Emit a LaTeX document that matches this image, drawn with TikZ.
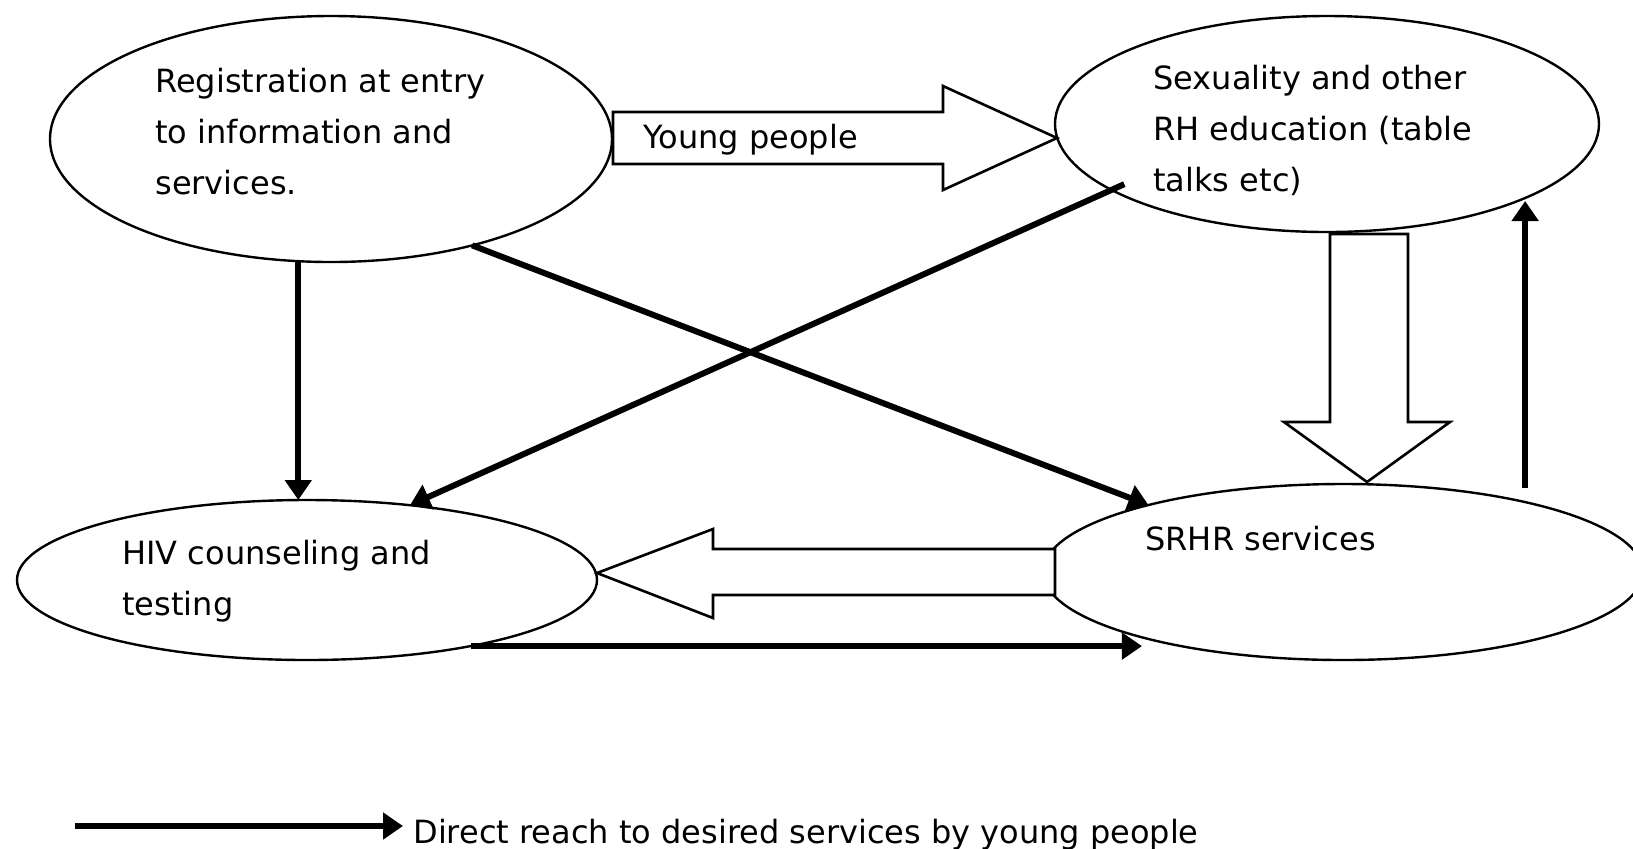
\documentclass[tikz,border=0pt]{standalone}
\usepackage{fontspec}
\setmainfont{DejaVu Sans}
\usetikzlibrary{arrows.meta,positioning,shapes.geometric}
\tikzset{
    bubble/.style={
        ellipse,
        draw=black, line width=1.2pt,
        inner sep=0pt, outer sep=0pt
    },
    bubtext/.style={
        anchor=base west,
        inner sep=0pt,
        align=left,
        font=\fontsize{16}{25.5}\selectfont
    },
    reach/.style={draw, line width=3pt, -{Triangle[length=10pt,width=13pt]}},
    blockarrow/.style={
        draw=black, line width=1.3pt,
        fill=white, line join=miter
    }
}
\begin{document}
\begin{tikzpicture}[x=0.5pt,y=-0.5pt]
\useasboundingbox (0,0) rectangle (1633,848);
% the four stages
\node[bubble, minimum width=281pt, minimum height=123pt] (reg) at (331,139) {};
\node[bubble, minimum width=272pt, minimum height=108pt] (sex) at (1327,124) {};
\node[bubble, minimum width=290pt, minimum height=80pt] (hiv) at (307,580) {};
\node[bubble, minimum width=300pt, minimum height=88pt] (srhr) at (1343,572) {};
% block arrows
\draw[blockarrow] (reg.east) ++(1,-27) -- ++(330,0) -- ++(0,-26) -- ++(114,52)
    -- ++(-114,52) -- ++(0,-26) -- ++(-330,0) -- cycle;
\draw[blockarrow] (hiv.east) ++(0,-7) -- ++(116,-44) -- ++(0,20) -- ++(342,0)
    -- ++(0,46) -- ++(-342,0) -- ++(0,23) -- cycle;
\draw[blockarrow] (sex.south) ++(3,2) -- ++(78,0) -- ++(0,188) -- ++(42,0)
    -- ++(-83,60) -- ++(-83,-60) -- ++(46,0) -- cycle;
% texts (base = last line)
\node[bubtext] (regtext) at (155,194) {Registration at entry\\to information and\\services.};
\node[bubtext] (sextext) at (1153,191) {Sexuality and other\\RH education (table\\talks etc)};
\node[bubtext] (hivtext) at (122,615) {HIV counseling and\\testing};
\node[bubtext] (srhrtext) at (1145,550) {SRHR services};
\node[bubtext] (young) at (643,148) {Young people};
% direct reach
\draw[reach] (reg.255.6) -- (reg.255.6 |- hiv.north);
\draw[reach] (reg.323.3) -- (srhr.161.65);
\draw[reach, shorten <=-7pt] (sex.197.7) -- (hiv.36.7);
\draw[reach] (hiv.338.4) -- (hiv.338.4 -| srhr.198.8);
\draw[reach, shorten <=7pt] (srhr.21.7) -- (srhr.21.7 |- sex.338.5);
% legend
\node[bubtext] (legend) at (413,843) {Direct reach to desired services by young people};
\coordinate (legtail) at (75,826);
\draw[reach, shorten >=5pt] (legtail) -- (legtail -| legend.west);
\end{tikzpicture}
\end{document}
